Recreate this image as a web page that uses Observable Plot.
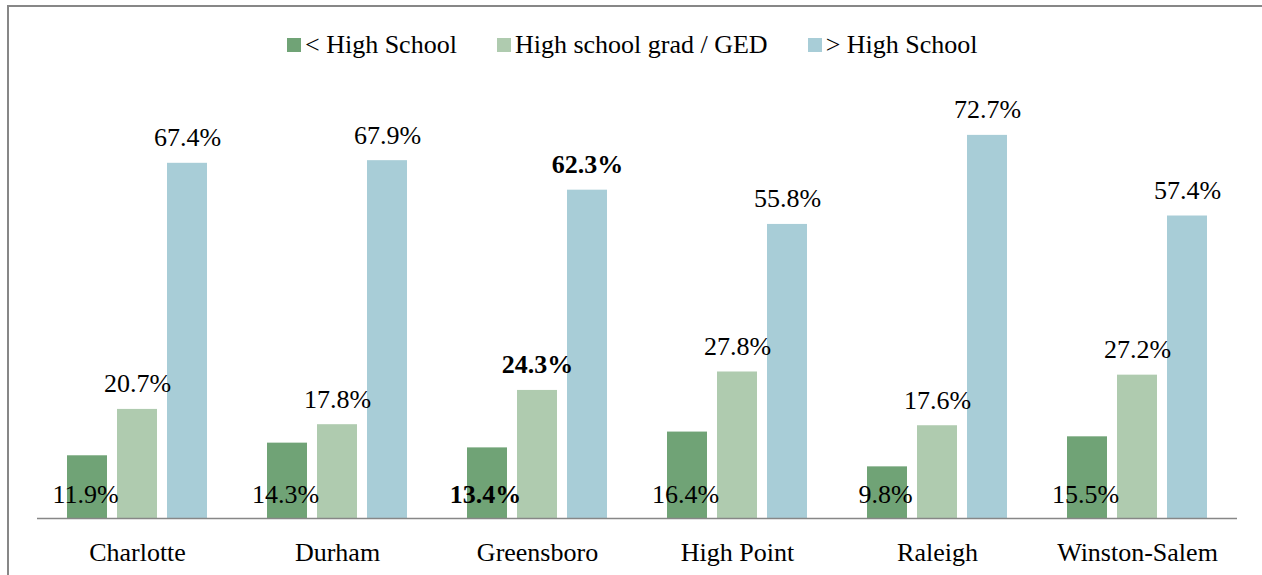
<!DOCTYPE html>
<html>
<head>
<meta charset="utf-8">
<script src="https://cdn.jsdelivr.net/npm/d3@7"></script>
<script src="https://cdn.jsdelivr.net/npm/@observablehq/plot@0.6"></script>
<style>
  html, body { margin: 0; padding: 0; background: #fff; overflow: hidden; }
  #wrap { position: relative; width: 1262px; height: 575px; font-family: "Liberation Serif", Tinos, "Times New Roman", Times, "Nimbus Roman", "DejaVu Serif", serif; }
  #frame { position: absolute; left: 7px; top: 5px; width: 1300px; height: 620px; border-left: 2px solid #878787; border-top: 2px solid #878787; box-sizing: border-box; pointer-events: none; }
  #legend { position: absolute; left: 287px; top: 30px; display: flex; align-items: center; font-size: 26px; color: #000; white-space: nowrap; }
  .item { display: flex; align-items: center; margin-right: 40px; }
  .sw { width: 14px; height: 14px; margin-right: 4px; }
  #chart { position: absolute; left: 0; top: 0; }
</style>
</head>
<body>
<div id="wrap">
  <div id="chart"></div>
  <div id="frame"></div>
  <div id="legend"></div>
</div>
<script>
const cities = ["Charlotte", "Durham", "Greensboro", "High Point", "Raleigh", "Winston-Salem"];
const seriesNames = ["< High School", "High school grad / GED", "> High School"];
const lessHS = [11.9, 14.3, 13.4, 16.4, 9.8, 15.5];
const hsGrad = [20.7, 17.8, 24.3, 27.8, 17.6, 27.2];
const moreHS = [67.4, 67.9, 62.3, 55.8, 72.7, 57.4];
const colors = ["#70A376", "#AFCBAF", "#A8CDD7"];
const boldCity = "Greensboro";

const seriesValues = [lessHS, hsGrad, moreHS];
const rows = [];
cities.forEach((c, i) => {
  seriesNames.forEach((s, j) => {
    rows.push({city: c, series: s, value: seriesValues[j][i]});
  });
});

const fontFamily = "'Liberation Serif', Tinos, 'Times New Roman', Times, 'Nimbus Roman', 'DejaVu Serif', serif";
const fmt = d => d.value.toFixed(1) + "%";

const lowRows = rows.filter(d => d.series === seriesNames[0]);
const upRows = rows.filter(d => d.series !== seriesNames[0]);

const chart = Plot.plot({
  width: 1262,
  height: 575,
  marginLeft: 37,
  marginRight: 25,
  marginTop: 96.4,
  marginBottom: 57,
  style: {fontFamily, fontSize: "26px", color: "#000", background: "transparent"},
  fx: {domain: cities, padding: 0, label: null},
  x: {domain: seriesNames, paddingInner: 0.2, paddingOuter: 0.6, axis: null},
  y: {domain: [0, 80], axis: null},
  color: {domain: seriesNames, range: colors},
  marks: [
    Plot.barY(rows, {fx: "city", x: "series", y: "value", fill: "series"}),
    Plot.ruleY([0], {stroke: "#878787", strokeWidth: 1.5}),
    Plot.axisFx({anchor: "bottom", tickSize: 0, tickPadding: 24, fontSize: 26, fontFamily, label: null}),
    Plot.text(lowRows.filter(d => d.city !== boldCity), {fx: "city", x: "series", y: 0, text: fmt, lineAnchor: "bottom", dy: -16, dx: -2, fontSize: 26, fontFamily, fill: "#000"}),
    Plot.text(lowRows.filter(d => d.city === boldCity), {fx: "city", x: "series", y: 0, text: fmt, lineAnchor: "bottom", dy: -16, dx: -2, fontSize: 26, fontFamily, fontWeight: "bold", fill: "#000"}),
    Plot.text(upRows.filter(d => d.city !== boldCity), {fx: "city", x: "series", y: "value", text: fmt, lineAnchor: "bottom", dy: -17, fontSize: 26, fontFamily, fill: "#000"}),
    Plot.text(upRows.filter(d => d.city === boldCity), {fx: "city", x: "series", y: "value", text: fmt, lineAnchor: "bottom", dy: -17, fontSize: 26, fontFamily, fontWeight: "bold", fill: "#000"})
  ]
});
document.getElementById("chart").appendChild(chart);

const legend = document.getElementById("legend");
seriesNames.forEach((s, j) => {
  const item = document.createElement("div");
  item.className = "item";
  const sw = document.createElement("div");
  sw.className = "sw";
  sw.style.background = colors[j];
  const lab = document.createElement("span");
  lab.textContent = s;
  item.appendChild(sw);
  item.appendChild(lab);
  legend.appendChild(item);
});
</script>
</body>
</html>
